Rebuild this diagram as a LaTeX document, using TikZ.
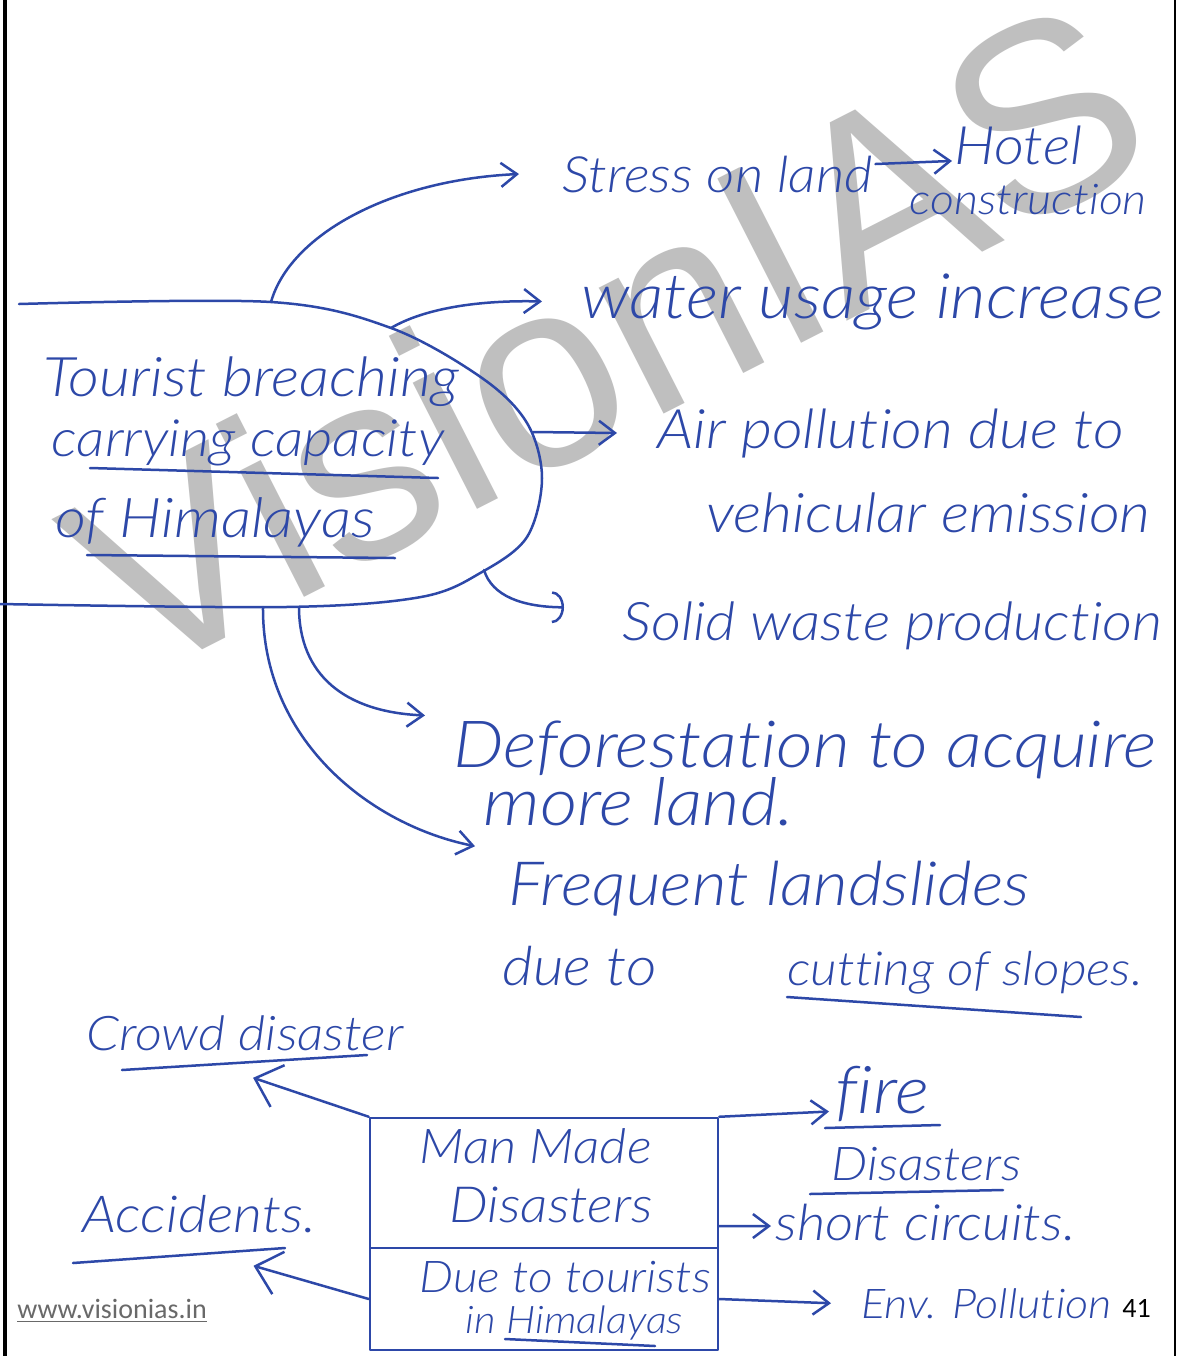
\documentclass[tikz,border=0pt]{standalone}
\usepackage{fontspec}
\usetikzlibrary{arrows.meta,calc}
\newfontfamily\hand{Lato Light}[FakeStretch=1.1,Ligatures=NoCommon]
\newfontfamily\wmfont{Liberation Sans}
\newfontfamily\footfont{Carlito}
\newcommand\hsz[1]{\fontsize{#1pt}{#1pt}\selectfont}
\definecolor{ink}{RGB}{45,72,168}
\definecolor{wmgray}{RGB}{191,191,191}
\definecolor{urlgray}{RGB}{105,105,105}

\begin{document}
\begin{tikzpicture}[x=0.5pt,y=-0.5pt,
  pen/.style={draw=ink, line width=1.25pt, line cap=round, line join=round},
  arr/.style={pen, -{Straight Barb[length=8pt,width=12pt]}},
  bigarr/.style={pen, -{Straight Barb[length=12pt,width=22pt]}},
  arcarr/.style={pen, -{Arc Barb[length=6pt,width=16pt]}},
  hw/.style={font=\hand\itshape\hsz{#1}, text=ink, inner sep=1pt, anchor=base west},
  boxframe/.style={pen, rectangle, inner sep=0pt}]

\fill[white] (0,0) rectangle (1180,1356);
\useasboundingbox (0,0) rectangle (1180,1356);

% watermark
\node[font=\wmfont\hsz{134}, text=wmgray, rotate=27, inner sep=0pt] (wm) at (606,336) {VisionIAS};

% page rules
\draw[line width=1.6pt] (5,0) -- (5,1356);
\draw[line width=1.2pt] (1175,0) -- (1175,1356);

% central oval, open to the left
\draw[pen] plot[smooth, tension=0.55] coordinates {(19,304) (271,302) (391,328) (482,378) (527,423) (542,478) (527,537) (482,572) (421,597) (286,607) (0,604)};
\coordinate (eTop) at (271,302);
\coordinate (eWater) at (391,328);
\coordinate (eAir) at (533,432);
\coordinate (eSolid) at (484,570);
\coordinate (eDefor) at (299,607);
\coordinate (eFreq) at (263,607);

% oval text
\node[hw=27.3] (t1) at (41,396) {Tourist breaching};
\node[hw=25.7] (t2) at (49,456) {carrying capacity};
\node[hw=27.4] (t3) at (53,537) {of Himalayas};
\draw[pen] (90,468) -- (438,478);
\draw[pen] (87,555) -- (395,558);

% effects
\node[hw=25] (stress) at (560,192) {Stress on land};
\node[hw=26.5] (hotel) at (952,164) {Hotel};
\node[hw=21.2] (constr) at (907,214) {construction};
\node[hw=31.3] (water) at (579,318) {water usage increase};
\node[hw=27.2] (air) at (655,448) {Air pollution due to};
\node[hw=27.3] (veh) at (704,532) {vehicular emission};
\node[hw=26.6] (solid) at (620,640) {Solid waste production};
\node[hw=32.5] (defor) at (451,767) {Deforestation to acquire};
\node[hw=33] (more) at (481,825) {more land.};
\node[hw=30.5] (freq) at (506,905) {Frequent landslides};
\node[hw=27] (dueto) at (500,985) {due to};
\node[hw=23.5] (cut) at (785,985) {cutting of slopes.};
\draw[pen] (787,997) -- (1081,1017);

\draw[arr] (eTop) .. controls (290,235) and (390,180) .. ([xshift=-20.5pt]stress.west);
\draw[arr] ([yshift=5pt]stress.east) -- ([yshift=-8pt]hotel.west);
\draw[arr] (eWater) .. controls (425,308) and (480,300) .. ([xshift=-18.5pt]water.west);
\draw[arr] (eAir) -- ([xshift=-19pt]air.west);
\draw[arcarr] (eSolid) .. controls (492,596) and (522,607) .. ([xshift=-28pt,yshift=9pt]solid.west);
\draw[arr] (eDefor) .. controls (299,675) and (345,712) .. ([xshift=-13pt,yshift=17pt]defor.west);
\draw[arr] (eFreq) .. controls (262,740) and (370,825) .. ([xshift=-15.5pt,yshift=21pt]freq.west);

% man made disasters box
\node[boxframe, minimum width=174pt, minimum height=65pt] (mmbox) at (544,1183) {};
\node[boxframe, minimum width=174pt, minimum height=51pt] (mmbot) at (544,1299) {};
\node[hw=24] (man) at (417,1163) {Man Made};
\node[hw=24.9] (dis) at (447,1222) {Disasters};
\node[hw=21.9] (dueT) at (417,1292) {Due to tourists};
\node[hw=19] (inH) at (463,1333) {in Himalayas};
\draw[pen] (505,1339) -- (655,1346);

\node[hw=23.9] (crowd) at (84,1050) {Crowd disaster};
\draw[pen] (122,1070) -- (367,1055);
\node[hw=25.5] (acc) at (80,1232) {Accidents.};
\draw[pen] (73,1263) -- (285,1248);

\node[hw=33] (fire) at (833,1113) {fire};
\draw[pen] (825,1128) -- (940,1125);
\node[hw=23.3] (fdis) at (829,1180) {Disasters};
\draw[pen] (810,1194) -- (1003,1190);
\node[hw=25] (short) at (773,1240) {short circuits.};
\node[hw=20.5] (env) at (859,1318) {Env. Pollution};

\draw[bigarr] (mmbox.north west) -- ([xshift=4pt,yshift=-12.5pt]crowd.south);
\draw[bigarr] (mmbot.west) -- ([xshift=-32.5pt,yshift=-15.5pt]acc.south east);
\draw[arr] (mmbox.north east) -- ([xshift=-2pt,yshift=-9pt]fire.west);
\draw[arr] ([yshift=-21.5pt]mmbox.east) -- ([xshift=-1pt,yshift=-2pt]short.west);
\draw[arr] (mmbot.east) -- ([xshift=-14pt]env.west);

% footer
\node[font=\footfont\hsz{14}, text=urlgray, anchor=base west, inner sep=0pt] (url) at (17,1318) {\underline{www.visionias.in}};
\node[font=\footfont\hsz{14}, anchor=base west, inner sep=0pt] (pg) at (1122,1317) {41};
\end{tikzpicture}
\end{document}
